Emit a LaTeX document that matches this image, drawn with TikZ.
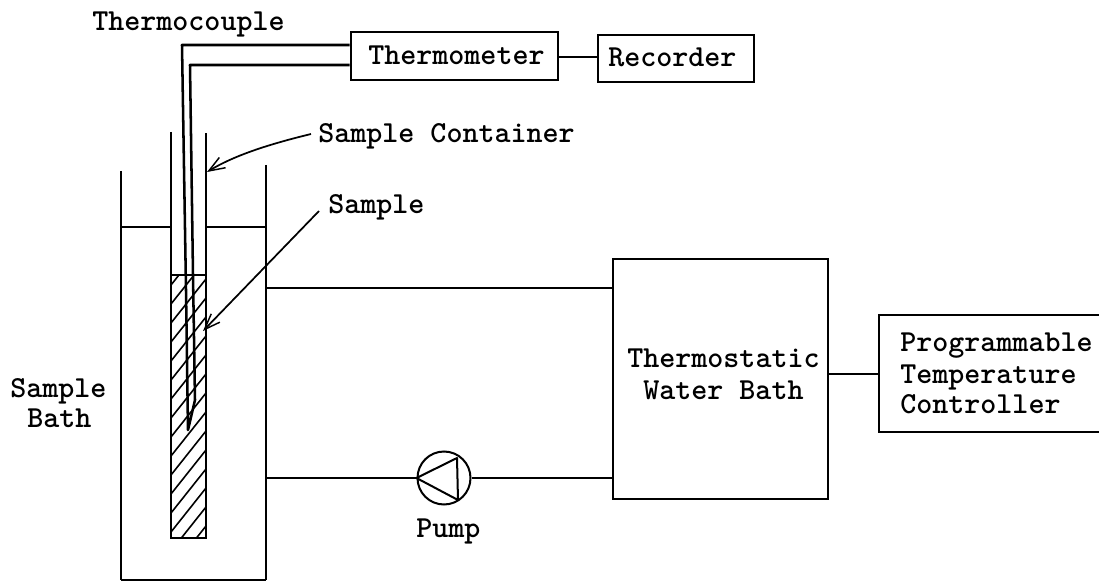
\documentclass[tikz,border=0pt]{standalone}
\usepackage{fontspec}
\usetikzlibrary{arrows.meta}
\tikzset{
 x=0.75pt,y=-0.75pt,
 ln/.style={line width=1.9pt,black},
 pipe/.style={line width=1.5pt,black},
 thin ln/.style={line width=1.2pt,black},
 lab/.style={inner sep=0,anchor=base west,font=\ttfamily\bfseries\fontsize{22.9}{24}\selectfont},
 tip/.style={-{Straight Barb[length=12pt,width=9pt,line width=1.1pt]}},
}
\begin{document}
\begin{tikzpicture}
\useasboundingbox (0,0) rectangle (1099,581);
% hatch
\begin{scope}
\clip (171,275) rectangle (206,538);
\foreach \i in {0,...,16} \draw[thin ln] (171,{285+\i*19}) -- ++(35,-44);
\end{scope}
% bath and container
\draw[ln] (121,171) -- (121,580);
\draw[ln] (266,165) -- (266,580);
\draw[pipe] (121,580) -- (266,580);
\draw[ln] (171,132) -- (171,538) -- (206,538) -- (206,133);
\draw[pipe] (121,227) -- (171,227) (206,227) -- (266,227);
\draw[thin ln] (171,275) -- (206,275);
% boxes
\node[draw,ln,inner sep=0,minimum height=48*0.75pt,text width=207*0.75pt] (thermo) at (454.5,56) {};
\node[draw,ln,inner sep=0,minimum height=47*0.75pt,text width=156*0.75pt] (rec) at (676,58.5) {};
\node[draw,ln,inner sep=0,minimum height=240*0.75pt,text width=215*0.75pt] (wb) at (720.5,379) {};
\node[draw,ln,inner sep=0,minimum height=117*0.75pt,text width=222*0.75pt] (ptc) at (990,373.5) {};
\draw[pipe] (thermo.east |- 0,57) -- (rec.west |- 0,57);
\draw[pipe] (wb.east |- 0,374) -- (ptc.west |- 0,374);
% thermocouple
\coordinate (tc1) at (thermo.west |- 0,45);
\coordinate (tc2) at (thermo.west |- 0,65);
\draw[ln,line join=round] (tc1) -- (182,45) -- (186,290) -- (188,430) -- (195,400) -- (193,275) -- (190,65) -- (tc2);
% pump
\node[draw,pipe,circle,inner sep=0,minimum size=53*0.75pt] (pump) at (444,478) {};
\draw[pipe,line join=round] (pump.west) -- (457,458) -- (458,500) -- cycle;
\draw[pipe] (266,288) -- (wb.west |- 0,288);
\draw[pipe] (266,478) -- (pump.west);
\draw[pipe] (pump.east) -- (wb.west |- 0,478);
% labels
\node[lab] at (92,31) {Thermocouple};
\node[lab] at (368,65) {Thermometer};
\node[lab] at (608,67) {Recorder};
\node[lab] (sc) at (318,143) {Sample Container};
\node[lab] (sa) at (328,214) {Sample};
\node[lab] at (10,397) {Sample};
\node[lab] at (27,427) {Bath};
\node[lab] at (627,367) {Thermostatic};
\node[lab] at (643,399) {Water Bath};
\node[lab] at (900,351) {Programmable};
\node[lab] at (900,383) {Temperature};
\node[lab] at (900,413) {Controller};
\node[lab] at (416,537) {Pump};
\draw[tip,line width=1.3pt] (311,134) .. controls (270,144) and (235,155) .. (207,172);
\draw[tip,line width=1.3pt] (319,211) -- (203,331);
\end{tikzpicture}
\end{document}
